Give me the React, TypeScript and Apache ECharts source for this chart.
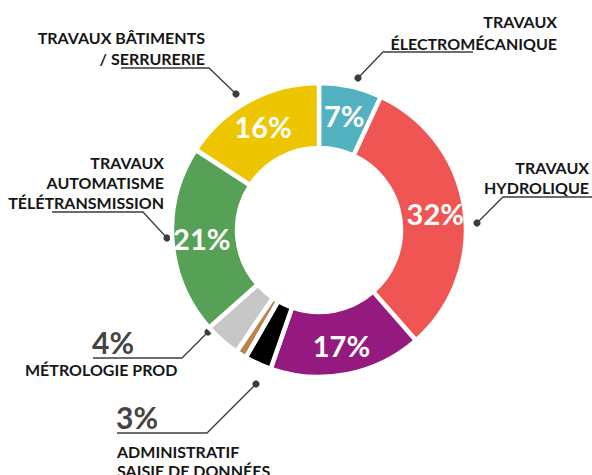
import React, { useEffect, useRef } from 'react';
import * as echarts from 'echarts';

// ---- data ----
const categories = [
  'Travaux électromécanique',
  'Travaux hydrolique',
  'Autres travaux',
  'Administratif saisie de données',
  'Divers',
  'Métrologie prod',
  'Travaux automatisme télétransmission',
  'Travaux bâtiments / serrurerie',
];
const values = [7, 32, 17, 3, 1.2, 4, 21, 16];
const colors = ['#53b2c0', '#ef5552', '#951a80', '#000000', '#b9854a', '#c6c7c6', '#56a155', '#edc500'];
const insideLabel = [true, true, true, false, false, false, true, true];

// outer annotation texts
const labelElectro = ['TRAVAUX', 'ÉLECTROMÉCANIQUE'];
const labelHydro = ['TRAVAUX', 'HYDROLIQUE'];
const labelBatiment = ['TRAVAUX BÂTIMENTS', '/ SERRURERIE'];
const labelAuto = ['TRAVAUX', 'AUTOMATISME', 'TÉLÉTRANSMISSION'];
const labelMetro = ['MÉTROLOGIE PROD'];
const labelAdmin = ['ADMINISTRATIF', 'SAISIE DE DONNÉES'];

const FONT = 'bold 16px Lato, "Noto Sans", sans-serif';
const BIG = 'bold 30px Lato, "Noto Sans", sans-serif';
const TXT = '#161616';
const LINE = '#3c3c3c';

function textLines(lines: string[], x: number, y0: number, step: number, align: string) {
  return lines.map((t, i) => ({
    type: 'text',
    style: { text: t, x, y: y0 + i * step, fill: TXT, font: FONT, textAlign: align, textVerticalAlign: 'middle' },
    silent: true,
  }));
}

function leader(dot: number[], corner: number[], endX: number) {
  return [
    {
      type: 'polyline',
      shape: { points: [dot, corner, [endX, corner[1]]] },
      style: { stroke: LINE, lineWidth: 1.3, fill: null },
      silent: true,
    },
    { type: 'circle', shape: { cx: dot[0], cy: dot[1], r: 3.6 }, style: { fill: LINE }, silent: true },
  ];
}

export default function App() {
  const ref = useRef<HTMLDivElement>(null);
  useEffect(() => {
    if (!ref.current) return;
    const chart = echarts.init(ref.current, null, { renderer: 'svg' });
    const data = categories.map((name, i) => ({
      name,
      value: values[i],
      itemStyle: { color: colors[i] },
      label: { show: insideLabel[i] },
    }));
    const graphic: any[] = [
      ...leader([358, 78], [383, 52], 473),
      ...textLines(labelElectro, 557, 21.5, 21.5, 'right'),
      ...leader([477, 223], [503, 197], 592),
      ...textLines(labelHydro, 589, 167.5, 20, 'right'),
      ...leader([236, 94], [209, 68], 121),
      ...textLines(labelBatiment, 205, 37.5, 20.5, 'right'),
      ...leader([167, 238], [143, 212], 52),
      ...textLines(labelAuto, 164, 162, 20.3, 'right'),
      ...leader([208, 332], [182, 358], 93),
      { type: 'text', style: { text: `${values[5]}%`, x: 92, y: 342, fill: '#444', font: BIG, textAlign: 'left', textVerticalAlign: 'middle' }, silent: true },
      ...textLines(labelMetro, 25, 369.5, 20, 'left'),
      ...leader([256, 384], [207, 433], 117),
      { type: 'text', style: { text: `${values[3]}%`, x: 116, y: 417, fill: '#444', font: BIG, textAlign: 'left', textVerticalAlign: 'middle' }, silent: true },
      ...textLines(labelAdmin, 117, 451.5, 18.5, 'left'),
    ];
    chart.setOption({
      animation: false,
      backgroundColor: '#ffffff',
      graphic,
      series: [
        {
          type: 'pie',
          center: [319, 230],
          radius: [82, 147],
          startAngle: 90,
          clockwise: true,
          avoidLabelOverlap: false,
          itemStyle: { borderColor: '#ffffff', borderWidth: 4.5 },
          label: {
            position: 'inside',
            formatter: '{c}%',
            color: '#ffffff',
            fontFamily: 'Lato, "Noto Sans", sans-serif',
            fontWeight: 'bold',
            fontSize: 29,
          },
          labelLine: { show: false },
          emphasis: { disabled: true },
          data,
        },
      ],
    });
    return () => chart.dispose();
  }, []);
  return <div ref={ref} style={{ position: 'fixed', left: 0, top: 0, width: 592, height: 475 }} />;
}
